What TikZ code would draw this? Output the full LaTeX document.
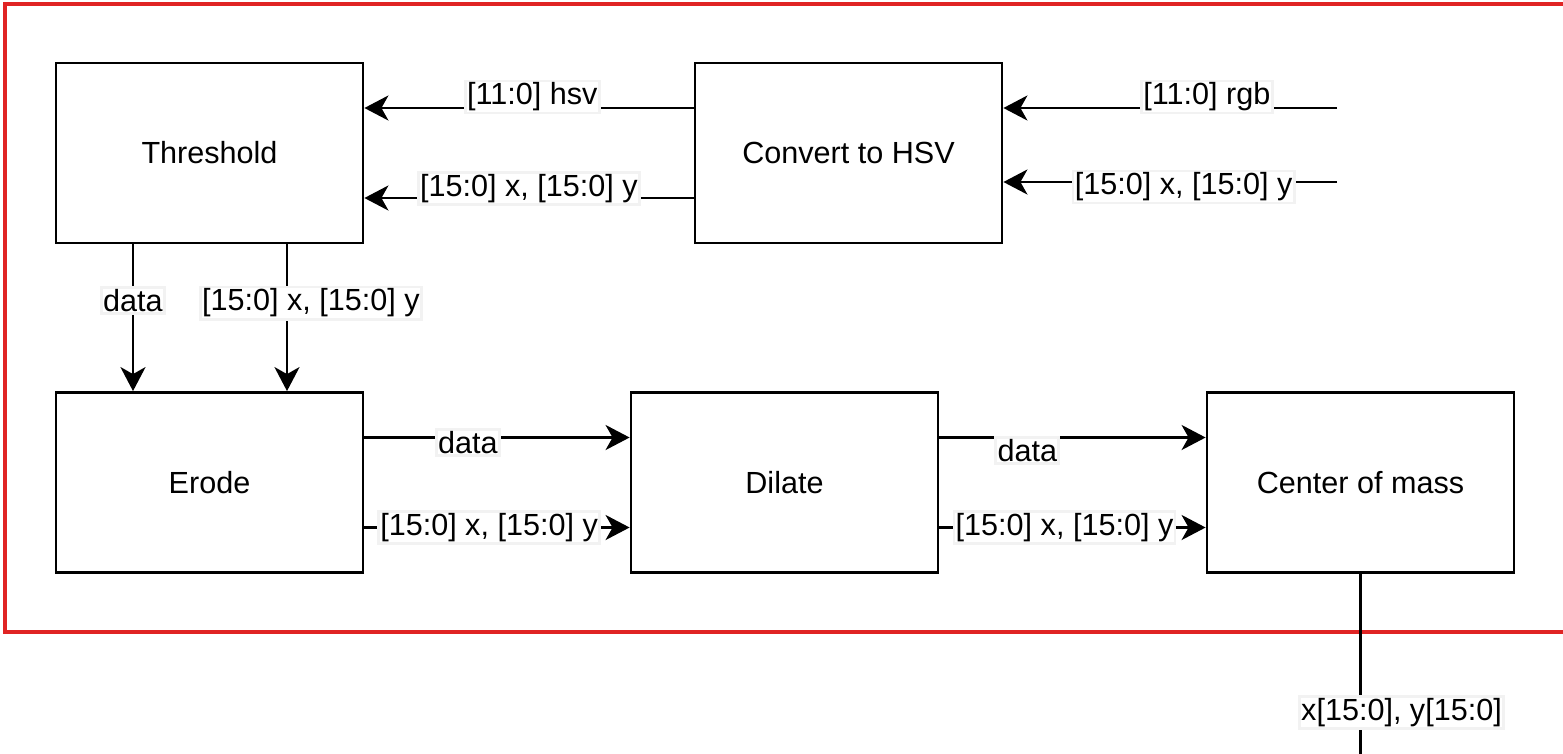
\documentclass[tikz,border=0pt]{standalone}
\usepackage{fontspec}
\setmainfont{Liberation Sans}
\usetikzlibrary{arrows.meta}
\definecolor{framered}{RGB}{224,36,36}
\begin{document}
\begin{tikzpicture}[
	block/.style={draw, line width=1.6pt, minimum width=6.14cm, minimum height=3.6cm, font=\fontsize{17.4}{20}\selectfont},
	sig/.style={line width=1.6pt, -{Stealth[length=0.48cm, width=0.5cm, inset=0.14cm]}},
	wire/.style={line width=1.6pt},
	lbl/.style={fill=white, draw=black!5, inner sep=1pt, font=\fontsize{17.4}{20}\selectfont}]
	\useasboundingbox (0,0) rectangle (31.26,-15.06);
	\clip (0,0) rectangle (31.26,-15.06);
	\draw[framered, line width=2.1pt] (0.1,-0.08) rectangle (31.6,-12.64);
	\node[block] (thr) at (4.19,-3.06) {Threshold};
	\node[block] (conv) at (16.97,-3.06) {Convert to HSV};
	\node[block] (ero) at (4.19,-9.65) {Erode};
	\node[block] (dil) at (15.69,-9.65) {Dilate};
	\node[block] (com) at (27.21,-9.65) {Center of mass};
	\coordinate (rgbin) at (26.74,-2.16);
	\coordinate (xyin) at (26.74,-3.64);
	\coordinate (out) at (27.21,-15.3);
	\draw[sig] (rgbin) -- (conv.east |- rgbin) node[lbl, pos=0.39, yshift=0.22cm] {[11:0] rgb};
	\draw[sig] (xyin) -- (conv.east |- xyin) node[lbl, pos=0.46, yshift=-0.1cm] {[15:0] x, [15:0] y};
	\draw[sig] ([yshift=0.9cm]conv.west) -- ([yshift=0.9cm]thr.east) node[lbl, pos=0.49, yshift=0.22cm] {[11:0] hsv};
	\draw[sig] ([yshift=-0.9cm]conv.west) -- ([yshift=-0.9cm]thr.east) node[lbl, pos=0.5, yshift=0.19cm] {[15:0] x, [15:0] y};
	\draw[sig] ([xshift=-1.53cm]thr.south) -- ([xshift=-1.53cm]ero.north) node[lbl, pos=0.38] {data};
	\draw[sig] ([xshift=1.55cm]thr.south) -- ([xshift=1.55cm]ero.north) node[lbl, pos=0.4, xshift=0.48cm] {[15:0] x, [15:0] y};
	\draw[sig] ([yshift=0.9cm]ero.east) -- ([yshift=0.9cm]dil.west) node[lbl, pos=0.39, yshift=-0.1cm] {data};
	\draw[sig] ([yshift=-0.9cm]ero.east) -- ([yshift=-0.9cm]dil.west) node[lbl, pos=0.47] {[15:0] x, [15:0] y};
	\draw[sig] ([yshift=0.9cm]dil.east) -- ([yshift=0.9cm]com.west) node[lbl, pos=0.33, yshift=-0.26cm] {data};
	\draw[sig] ([yshift=-0.9cm]dil.east) -- ([yshift=-0.9cm]com.west) node[lbl, pos=0.47] {[15:0] x, [15:0] y};
	\draw[wire] (com.south) -- (out) node[lbl, pos=0.725, xshift=0.82cm] {x[15:0], y[15:0]};
\end{tikzpicture}
\end{document}
